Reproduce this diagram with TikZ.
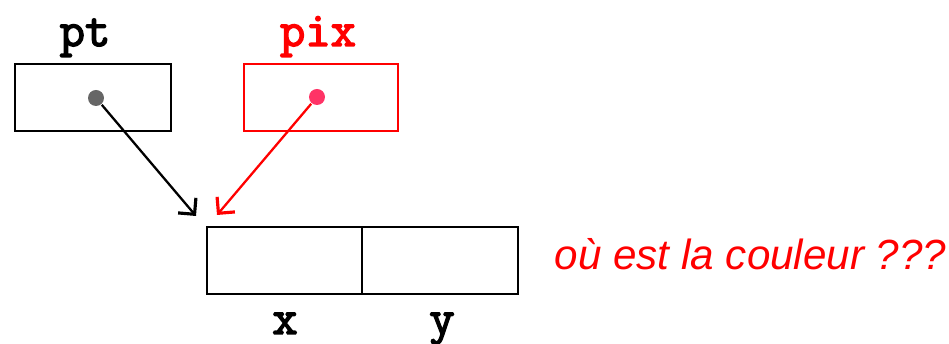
\documentclass[tikz,border=0pt]{standalone}
\usepackage{fontspec}
\setmainfont{Liberation Sans}
\setmonofont{Latin Modern Mono}[AutoFakeBold=3]
\usetikzlibrary{arrows.meta}
\definecolor{dotgray}{HTML}{666666}
\definecolor{dotpink}{HTML}{FF3366}
\tikzset{
  cell/.style={draw,minimum height=1.34cm,inner sep=0pt},
  varname/.style={anchor=base,font=\ttfamily\bfseries\fontsize{28}{28}\selectfont},
  ptrdot/.style={circle,inner sep=0pt,minimum size=0.32cm},
}

\begin{document}
\begin{tikzpicture}[line width=1.1pt,>={Straight Barb[angle=90:0.33cm,line width=1.8pt]}]
  \useasboundingbox (0,0) rectangle (18.98,6.88);
  % the two pointer variables
  \node[cell,minimum width=3.12cm] (pt) at (1.86,4.93) {};
  \node[cell,draw=red,minimum width=3.08cm] (pix) at (6.42,4.93) {};
  \node[varname] (ptname) at (1.70,5.96) {pt};
  \node[varname,text=red] (pixname) at (6.36,5.96) {pix};
  \node[ptrdot,fill=dotgray] (ptdot) at (1.92,4.92) {};
  \node[ptrdot,fill=dotpink] (pixdot) at (6.34,4.94) {};
  % the struct with its two fields
  \node[cell,minimum width=3.10cm] (x) at (5.69,1.67) {};
  \node[cell,minimum width=3.12cm] (y) at (8.80,1.67) {};
  \node[varname] (xname) at (5.70,0.20) {x};
  \node[varname] (yname) at (8.84,0.20) {y};
  \node[anchor=base west,text=red,font=\itshape\fontsize{24}{24}\selectfont]
    (note) at (10.96,1.48) {où est la couleur ???};
  % where they point
  \coordinate (ptend) at (3.92,2.56);
  \coordinate (pixend) at (4.34,2.58);
  \draw[->,line width=1.3pt] (ptdot) -- (ptend);
  \draw[->,line width=1.3pt,red] (pixdot) -- (pixend);
\end{tikzpicture}
\end{document}
